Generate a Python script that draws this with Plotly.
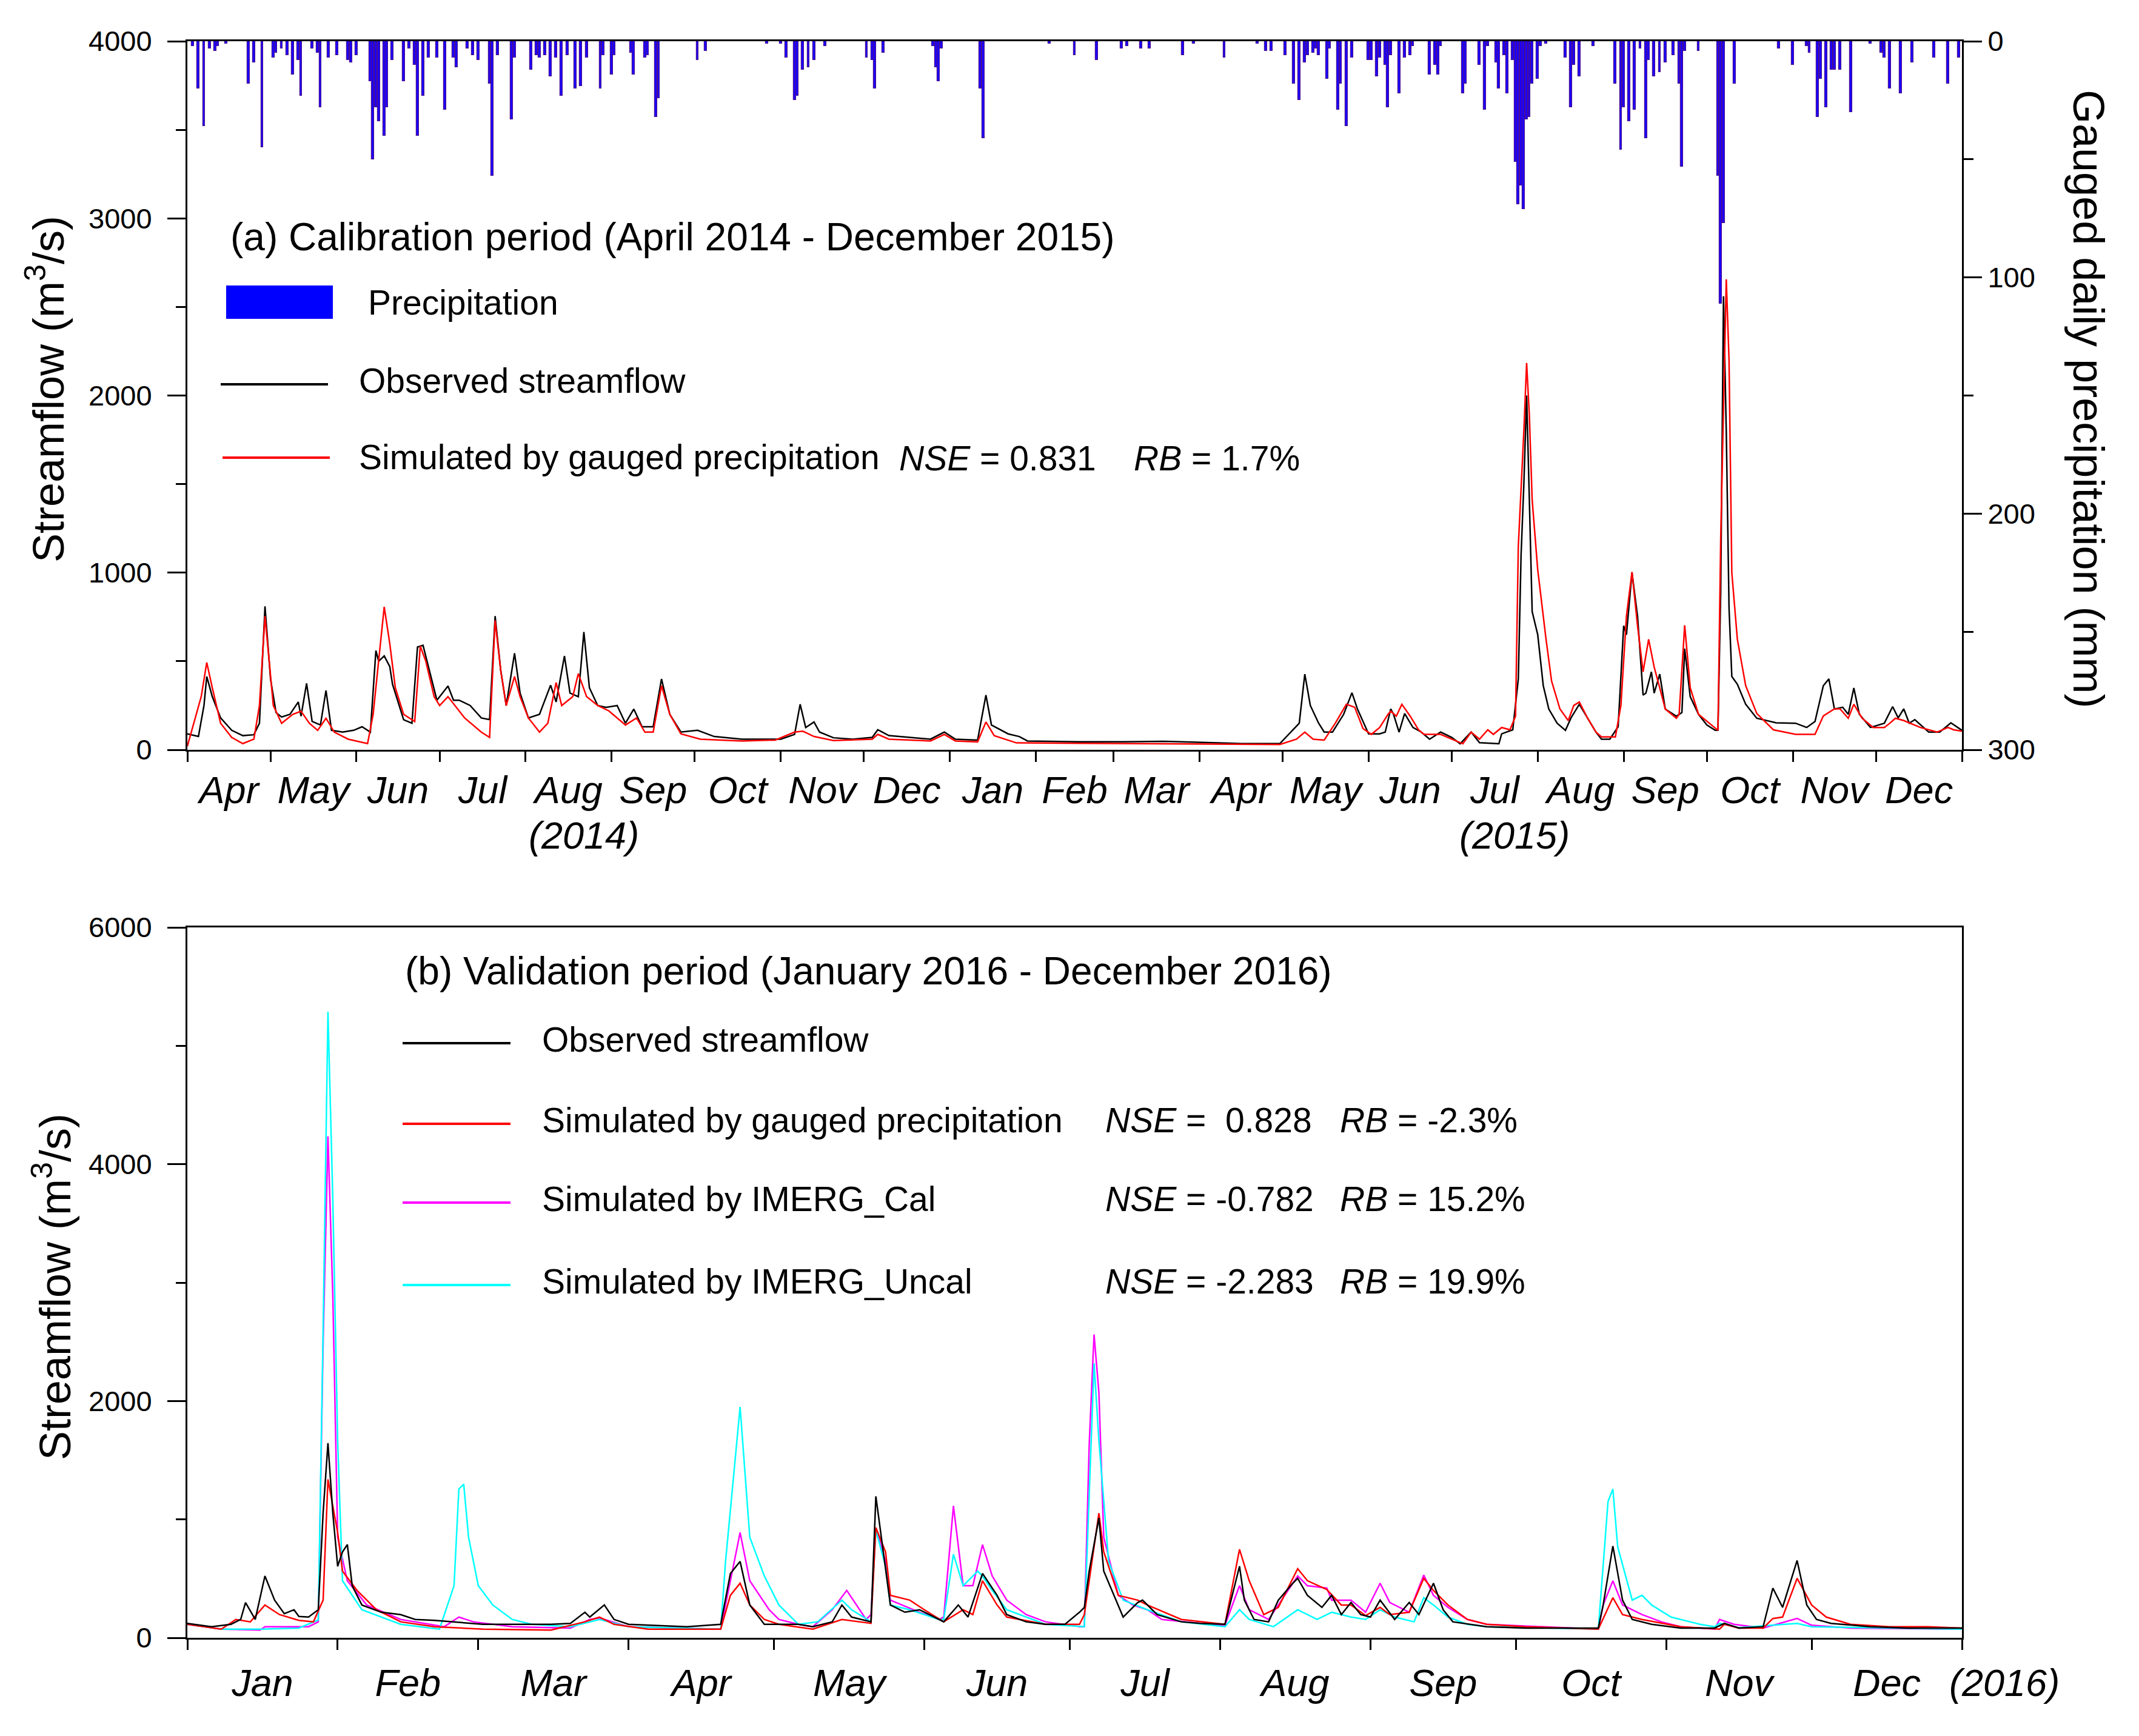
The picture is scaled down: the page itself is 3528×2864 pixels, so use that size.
import pandas as pd
import plotly.graph_objects as go

FONT = "Liberation Sans, Arial, sans-serif"
W, H = 3528, 2864

# ---- (a) calibration period, days counted from 2014-04-01 ----
start_a = "2014-04-01"

obs_a_day = [0, 4, 6, 7, 9, 12, 16, 20, 24, 26, 28, 30, 32, 34, 37, 40, 41, 43, 45, 48, 50, 52, 56, 60, 63, 66,
             68, 69, 71, 73, 74, 76, 78, 81, 83, 85, 88, 90, 94, 96, 98, 102, 106, 109, 111, 113, 115, 118, 120,
             123, 127, 131, 133, 136, 138, 141, 143, 145, 148, 151, 155, 158, 161, 164, 168, 171, 174, 178, 184,
             190, 200, 214, 219, 221, 223, 226, 228, 233, 240, 247, 249, 253, 268, 273, 277, 285, 288, 290, 296,
             300, 303, 324, 338, 352, 366, 380, 394, 401, 403, 405, 408, 410, 413, 417, 420, 422, 426, 430, 432,
             434, 435, 437, 439, 442, 445, 448, 452, 456, 459, 463, 466, 473, 474, 478, 480, 481, 482, 483, 484,
             485, 487, 489, 491, 494, 497, 499, 502, 505, 508, 510, 513, 516, 518, 519, 520, 521, 523, 525, 526,
             528, 529, 531, 533, 537, 539, 540, 542, 545, 548, 551, 552, 553, 554, 555, 556, 557, 559, 562, 566,
             573, 580, 584, 587, 590, 592, 594, 597, 599, 601, 603, 607, 612, 615, 617, 619, 621, 623, 628, 632,
             636, 640]
obs_a_val = [90, 75, 250, 414, 300, 180, 110, 80, 85, 150, 810, 400, 210, 185, 200, 270, 190, 375, 160, 140, 335,
             110, 100, 110, 130, 100, 560, 500, 530, 470, 370, 270, 170, 150, 580, 590, 400, 280, 360, 280, 280,
             250, 180, 170, 755, 450, 250, 545, 320, 180, 200, 365, 270, 530, 320, 300, 665, 350, 250, 240, 250,
             150, 230, 130, 130, 400, 200, 100, 110, 75, 60, 60, 87, 257, 126, 157, 100, 68, 60, 70, 113, 80, 60,
             100, 60, 55, 309, 140, 90, 75, 50, 45, 45, 48, 42, 35, 35, 150, 427, 250, 150, 100, 100, 200, 322,
             230, 90, 90, 100, 231, 200, 100, 205, 126, 100, 60, 100, 70, 34, 100, 40, 34, 90, 113, 400, 1100,
             1500, 2000, 1400, 780, 650, 362, 230, 150, 110, 180, 257, 180, 100, 60, 60, 130, 700, 650, 834, 1000,
             755, 309, 320, 440, 320, 427, 230, 190, 210, 571, 300, 200, 140, 110, 110, 900, 2560, 1800, 800, 414,
             370, 257, 178, 152, 150, 126, 160, 362, 400, 230, 240, 200, 349, 200, 126, 150, 244, 180, 231, 150,
             170, 100, 100, 152, 110]

sim_a_day = [0, 5, 7, 9, 12, 16, 20, 24, 26, 28, 31, 34, 38, 41, 44, 47, 50, 53, 58, 65, 67, 69, 71, 73, 75, 78,
             82, 84, 86, 89, 91, 94, 97, 100, 106, 109, 111, 113, 115, 118, 120, 123, 127, 130, 133, 135, 139, 141,
             144, 148, 152, 158, 162, 165, 168, 171, 174, 178, 185, 200, 212, 219, 222, 226, 233, 247, 249, 253,
             268, 273, 277, 285, 288, 291, 299, 330, 360, 394, 400, 403, 406, 410, 414, 418, 421, 424, 427, 430,
             433, 434, 436, 438, 441, 444, 446, 452, 456, 460, 463, 466, 469, 471, 474, 477, 479, 480, 482, 483,
             484, 485, 487, 490, 492, 495, 498, 500, 502, 505, 508, 510, 515, 517, 519, 521, 523, 525, 527, 529,
             531, 533, 537, 538, 540, 542, 545, 549, 552, 553, 555, 556, 557, 559, 562, 566, 572, 580, 587, 590,
             594, 596, 599, 601, 604, 608, 612, 614, 616, 619, 625, 631, 635, 637, 640]
sim_a_val = [20, 300, 493, 350, 150, 70, 35, 60, 250, 755, 250, 150, 200, 218, 150, 110, 178, 100, 60, 35, 200,
             500, 807, 600, 350, 200, 160, 585, 500, 300, 250, 300, 240, 180, 100, 70, 730, 450, 250, 414, 300,
             180, 100, 150, 380, 250, 300, 430, 300, 250, 220, 140, 180, 100, 100, 362, 200, 90, 60, 50, 55, 100,
             105, 75, 52, 60, 87, 60, 50, 87, 50, 45, 157, 80, 39, 36, 34, 30, 60, 100, 60, 55, 150, 257, 240,
             120, 87, 126, 200, 218, 190, 257, 190, 113, 87, 87, 60, 34, 100, 60, 113, 87, 126, 113, 190, 1148,
             1800, 2184, 1882, 1410, 1017, 624, 388, 231, 165, 250, 270, 178, 100, 73, 73, 250, 755, 1004, 700,
             440, 624, 467, 350, 230, 178, 200, 703, 350, 200, 150, 110, 1200, 2656, 2200, 1000, 624, 362, 205,
             113, 87, 87, 191, 231, 231, 178, 257, 178, 126, 126, 150, 178, 165, 126, 100, 126, 113, 105]

rain_a_day = [2, 4, 6, 8, 10, 11, 14, 22, 24, 27, 31, 32, 34, 36, 38, 40, 41, 45, 47, 48, 51, 54, 58, 59, 61, 66,
              67, 68, 69, 71, 72, 74, 78, 80, 82, 83, 85, 87, 90, 93, 96, 97, 101, 103, 105, 109, 110, 112, 117,
              118, 124, 126, 127, 129, 131, 133, 135, 137, 140, 142, 144, 149, 150, 153, 154, 160, 161, 165, 166,
              169, 170, 184, 187, 209, 214, 216, 219, 220, 222, 224, 226, 230, 245, 247, 248, 251, 269, 270, 271,
              272, 286, 287, 311, 320, 328, 337, 339, 344, 347, 359, 363, 374, 386, 389, 391, 396, 399, 401, 403,
              404, 406, 407, 408, 411, 412, 415, 416, 418, 420, 426, 427, 429, 430, 432, 433, 434, 437, 439, 441,
              442, 448, 450, 451, 452, 460, 461, 466, 468, 469, 472, 473, 475, 476, 478, 479, 480, 481, 482, 483,
              484, 485, 487, 488, 490, 497, 499, 500, 502, 507, 515, 517, 518, 520, 522, 524, 526, 527, 529, 531,
              533, 536, 538, 539, 540, 545, 552, 553, 554, 558, 574, 579, 584, 585, 588, 589, 591, 593, 594, 596,
              600, 607, 611, 612, 614, 618, 622, 630, 635, 639]
rain_a_mm = [2, 20, 36, 3, 4, 2, 1, 18, 9, 45, 7, 5, 3, 6, 14, 8, 23, 3, 5, 28, 7, 6, 8, 9, 6, 17, 50, 28, 34, 40,
             28, 8, 17, 3, 10, 40, 23, 7, 7, 29, 7, 11, 3, 6, 8, 18, 57, 6, 33, 7, 12, 6, 7, 6, 15, 7, 23, 6, 20,
             19, 7, 20, 6, 14, 6, 5, 14, 7, 6, 32, 24, 8, 4, 1, 1, 7, 25, 23, 12, 11, 8, 2, 7, 8, 20, 5, 2, 11, 17,
             3, 20, 41, 1, 6, 8, 3, 2, 3, 3, 6, 1, 7, 1, 4, 4, 6, 18, 25, 9, 6, 5, 3, 6, 16, 3, 29, 18, 36, 7, 8,
             8, 15, 7, 10, 28, 6, 22, 7, 6, 2, 14, 10, 14, 2, 22, 18, 10, 29, 2, 9, 20, 6, 22, 8, 51, 69, 61, 71,
             33, 32, 18, 16, 2, 1, 7, 28, 10, 15, 2, 18, 46, 28, 34, 29, 3, 41, 8, 15, 13, 9, 6, 18, 53, 4, 4, 57,
             111, 77, 18, 3, 10, 2, 5, 32, 16, 28, 12, 12, 12, 30, 1, 5, 7, 20, 22, 9, 7, 18, 7]

# ---- (b) validation period, days counted from 2016-01-01 ----
start_b = "2016-01-01"

obs_b_day = [0, 5, 9, 11, 12, 14, 16, 18, 20, 22, 23, 25, 27, 28, 29, 30, 31, 32, 33, 34, 36, 40, 44, 47, 51, 55,
             61, 67, 75, 79, 82, 83, 86, 88, 91, 103, 110, 112, 114, 116, 119, 122, 126, 129, 133, 135, 137, 141,
             142, 143, 145, 148, 151, 153, 156, 159, 161, 164, 167, 169, 173, 177, 181, 184, 185, 186, 188, 189,
             192, 193, 196, 197, 200, 205, 209, 214, 217, 218, 220, 223, 225, 228, 229, 231, 234, 236, 238, 240,
             242, 244, 246, 249, 252, 254, 257, 259, 261, 268, 276, 291, 292, 294, 296, 298, 302, 308, 315, 317,
             320, 325, 327, 329, 332, 334, 336, 339, 347, 355, 366]
obs_b_val = [122, 94, 114, 155, 298, 155, 522, 318, 204, 237, 180, 175, 237, 1053, 1644, 1053, 604, 726, 787,
             440, 277, 216, 196, 155, 147, 135, 114, 114, 114, 122, 216, 175, 277, 155, 114, 94, 114, 543, 645,
             277, 114, 114, 114, 94, 135, 277, 175, 135, 1195, 889, 277, 216, 237, 196, 135, 277, 175, 543, 359,
             196, 135, 114, 114, 216, 257, 563, 1012, 563, 277, 175, 298, 318, 196, 135, 122, 114, 604, 318, 155,
             135, 318, 461, 502, 359, 257, 359, 196, 298, 196, 175, 318, 155, 298, 196, 461, 237, 135, 94, 82,
             82, 277, 775, 318, 155, 114, 82, 82, 122, 82, 94, 420, 257, 653, 277, 155, 122, 94, 82, 82]

gauge_b_day = [0, 7, 10, 13, 16, 19, 23, 26, 28, 29, 31, 32, 35, 39, 44, 51, 61, 75, 82, 85, 88, 95, 110, 112,
               114, 116, 119, 122, 129, 135, 141, 142, 144, 145, 149, 152, 156, 160, 162, 164, 167, 169, 177, 184,
               185, 188, 189, 192, 196, 198, 205, 214, 217, 219, 222, 225, 229, 231, 235, 238, 240, 243, 246, 248,
               252, 255, 257, 260, 264, 268, 276, 291, 294, 296, 300, 308, 316, 317, 320, 325, 327, 329, 332, 335,
               338, 343, 351, 359, 366]
gauge_b_val = [114, 73, 155, 135, 277, 196, 147, 135, 318, 1338, 889, 563, 400, 237, 135, 94, 73, 65, 135, 175,
               114, 73, 73, 359, 461, 277, 155, 114, 73, 155, 122, 930, 726, 359, 318, 237, 135, 237, 196, 482,
               277, 175, 114, 114, 196, 1053, 726, 359, 318, 277, 155, 114, 747, 482, 196, 257, 584, 482, 408,
               277, 277, 188, 257, 196, 216, 502, 400, 277, 155, 114, 94, 73, 339, 196, 155, 94, 73, 114, 82, 82,
               163, 175, 502, 277, 175, 114, 94, 94, 82]

cal_b_day = [0, 7, 15, 16, 25, 27, 28, 29, 30, 31, 33, 37, 44, 53, 56, 59, 67, 79, 83, 85, 91, 110, 112, 114, 116,
             120, 122, 126, 129, 133, 136, 140, 141, 142, 144, 145, 151, 155, 156, 158, 160, 162, 164, 166, 169,
             173, 177, 184, 185, 186, 187, 188, 189, 192, 195, 198, 201, 209, 214, 217, 219, 223, 225, 229, 231,
             235, 236, 240, 243, 246, 248, 252, 255, 257, 260, 264, 268, 291, 292, 294, 296, 300, 304, 308, 315,
             316, 319, 325, 332, 335, 343, 366]
cal_b_val = [114, 73, 65, 94, 94, 135, 2480, 4235, 2890, 849, 481, 277, 155, 94, 175, 135, 94, 82, 155, 167, 94,
             73, 481, 889, 481, 237, 155, 114, 94, 237, 400, 155, 196, 930, 645, 318, 216, 155, 175, 1114, 440,
             440, 787, 522, 318, 196, 135, 94, 94, 1632, 2562, 2073, 849, 359, 277, 237, 155, 122, 106, 440, 237,
             155, 277, 522, 440, 420, 318, 318, 216, 461, 298, 216, 530, 359, 257, 155, 114, 73, 277, 481, 277,
             196, 135, 94, 73, 155, 114, 82, 163, 106, 82, 73]

uncal_b_day = [0, 7, 15, 23, 27, 28, 29, 30, 31, 32, 36, 44, 52, 55, 56, 57, 58, 60, 63, 67, 71, 79, 85, 91, 110,
               111, 114, 116, 119, 122, 126, 130, 135, 137, 141, 142, 144, 145, 149, 155, 156, 158, 160, 163, 164,
               166, 169, 177, 185, 186, 187, 188, 190, 193, 198, 205, 214, 217, 219, 224, 229, 233, 236, 240, 243,
               246, 249, 253, 255, 257, 260, 264, 268, 291, 292, 293, 294, 295, 298, 300, 302, 306, 312, 315, 316,
               320, 332, 335, 366]
uncal_b_val = [114, 73, 73, 82, 150, 2600, 5288, 3705, 1665, 481, 237, 114, 73, 440, 1257, 1297, 849, 440, 277,
               155, 114, 94, 155, 94, 73, 645, 1950, 849, 522, 277, 114, 135, 318, 237, 135, 910, 604, 277, 237,
               155, 155, 706, 440, 563, 520, 400, 237, 114, 94, 1257, 2318, 1665, 645, 318, 237, 135, 94, 237,
               155, 94, 237, 155, 216, 175, 155, 237, 175, 135, 339, 277, 175, 114, 94, 73, 600, 1150, 1257, 767,
               318, 359, 277, 175, 114, 94, 122, 86, 122, 94, 73]


def dates(start, days):
    return pd.Timestamp(start) + pd.to_timedelta(days, unit="D")


fig = go.Figure()

fig.add_trace(go.Bar(x=dates(start_a, rain_a_day), y=rain_a_mm, xaxis="x", yaxis="y2",
                     width=0.85 * 86400000, marker=dict(color="#1a00ff", line=dict(color="#4b1190", width=1.2)),
                     showlegend=False))
fig.add_trace(go.Scatter(x=dates(start_a, obs_a_day), y=obs_a_val, xaxis="x", yaxis="y", mode="lines",
                         line=dict(color="black", width=2.5), showlegend=False))
fig.add_trace(go.Scatter(x=dates(start_a, sim_a_day), y=sim_a_val, xaxis="x", yaxis="y", mode="lines",
                         line=dict(color="#ff0000", width=2.5), showlegend=False))

for d, v, c in [(cal_b_day, cal_b_val, "#ff00ff"), (uncal_b_day, uncal_b_val, "#00ffff"),
                (gauge_b_day, gauge_b_val, "#ff0000"), (obs_b_day, obs_b_val, "black")]:
    fig.add_trace(go.Scatter(x=dates(start_b, d), y=v, xaxis="x2", yaxis="y3", mode="lines",
                             line=dict(color=c, width=2.5), showlegend=False))

xdom = [309 / W, 3236 / W]
axis_common = dict(showline=True, linewidth=3, linecolor="black", showgrid=False, zeroline=False,
                   ticks="outside", tickwidth=3, tickcolor="black", automargin=False)
month_axis = dict(type="date", dtick="M1", ticklabelmode="period", tickformat="%b", ticklen=17,
                  tickfont=dict(family=FONT, size=63, color="black", style="italic"), mirror=True)
num_font = dict(family=FONT, size=47, color="black")

fig.update_layout(
    width=W, height=H, template="none", paper_bgcolor="white", plot_bgcolor="white",
    margin=dict(l=0, r=0, t=0, b=0), showlegend=False, bargap=0,
    xaxis=dict(domain=xdom, anchor="y", range=["2014-04-01", "2016-01-01"], tick0="2014-04-01",
               ticklabelstandoff=-8, **month_axis, **axis_common),
    yaxis=dict(domain=[1 - 1237 / H, 1 - 68 / H], anchor="x", range=[0, 4000],
               tickvals=[0, 1000, 2000, 3000, 4000], ticklen=30, tickfont=num_font, ticklabelstandoff=16,
               minor=dict(dtick=500, ticklen=16, tickwidth=3, ticks="outside", tickcolor="black"),
               **axis_common),
    yaxis2=dict(overlaying="y", side="right", anchor="x", range=[300, 0], tickvals=[0, 100, 200, 300],
                ticklen=30, tickfont=num_font,
                minor=dict(dtick=50, ticklen=16, tickwidth=3, ticks="outside", tickcolor="black"),
                **axis_common),
    xaxis2=dict(domain=xdom, anchor="y3", range=["2016-01-01", "2017-01-01"], tick0="2016-01-01",
                ticklabelstandoff=0, **month_axis, **axis_common),
    yaxis3=dict(domain=[1 - 2702 / H, 1 - 1530 / H], anchor="x2", range=[0, 6000],
                tickvals=[0, 2000, 4000, 6000], ticklen=30, tickfont=num_font, mirror=True,
                ticklabelstandoff=16,
                minor=dict(dtick=1000, ticklen=16, tickwidth=3, ticks="outside", tickcolor="black"),
                **axis_common),
)


def px(x):
    return x / W


def py(y):
    return 1 - y / H


def note(text, x, y, size=57, angle=0, anchor="left", style="normal"):
    fig.add_annotation(text=text, x=px(x), y=py(y), xref="paper", yref="paper", showarrow=False,
                       xanchor=anchor, yanchor="middle", textangle=angle,
                       font=dict(family=FONT, size=size, color="black", style=style))


def legend_line(x0, x1, y, color):
    fig.add_shape(type="line", xref="paper", yref="paper", x0=px(x0), x1=px(x1), y0=py(y), y1=py(y),
                  line=dict(color=color, width=4))


# axis titles
note("Streamflow (m<sup>3</sup>/s)", 74, 642, size=72, angle=-90, anchor="center")
note("Streamflow (m<sup>3</sup>/s)", 85, 2123, size=72, angle=-90, anchor="center")
note("Gauged daily precipitation (mm)", 3445, 658, size=72, angle=90, anchor="center")

# year marks under the month labels
note("(2014)", 963, 1378, size=63, anchor="center", style="italic")
note("(2015)", 2498, 1378, size=63, anchor="center", style="italic")
note("(2016)", 3306, 2776, size=63, anchor="center", style="italic")

# panel (a) legend
note("(a) Calibration period (April 2014 - December 2015)", 378, 391, size=64)
fig.add_shape(type="rect", xref="paper", yref="paper", x0=px(373), x1=px(549), y0=py(526), y1=py(471),
              fillcolor="#0000ff", line=dict(width=0))
note("Precipitation", 605, 499)
legend_line(364, 541, 634, "black")
note("Observed streamflow", 590, 628)
legend_line(367, 544, 755, "#ff0000")
note("Simulated by gauged precipitation", 590, 754)
note("<i>NSE</i> = 0.831", 1481, 756)
note("<i>RB</i> = 1.7%", 1868, 756)

# panel (b) legend
note("(b) Validation period (January 2016 - December 2016)", 666, 1602, size=64)
rows = [(1715, "black", "Observed streamflow", None, None),
        (1848, "#ff0000", "Simulated by gauged precipitation", "<i>NSE</i> =\u00a0 0.828", "<i>RB</i> = -2.3%"),
        (1978, "#ff00ff", "Simulated by IMERG_Cal", "<i>NSE</i> = -0.782", "<i>RB</i> = 15.2%"),
        (2114, "#00ffff", "Simulated by IMERG_Uncal", "<i>NSE</i> = -2.283", "<i>RB</i> = 19.9%")]
for y, c, label, nse, rb in rows:
    legend_line(664, 842, y + 6, c)
    note(label, 892, y)
    if nse:
        note(nse, 1821, y)
        note(rb, 2208, y)

fig.write_html("out.html", config={"displayModeBar": False},
               post_script="document.body.style.margin='0';")
